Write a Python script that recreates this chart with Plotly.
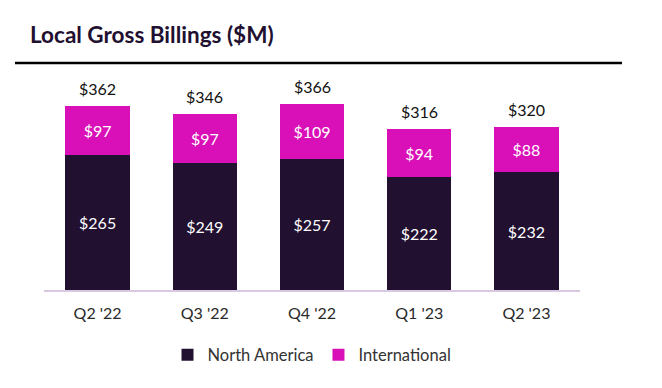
import plotly.graph_objects as go

quarters = ["Q2 '22", "Q3 '22", "Q4 '22", "Q1 '23", "Q2 '23"]
north_america = [265, 249, 257, 222, 232]
international = [97, 97, 109, 94, 88]
totals = [362, 346, 366, 316, 320]

DARK = "#221030"
MAGENTA = "#d910b8"
FONT = "Lato"

fig = go.Figure()
fig.add_trace(go.Bar(
    x=quarters, y=north_america, name="North America",
    marker=dict(color=DARK, line=dict(width=0)),
    text=[f"${v}" for v in north_america], textposition="inside",
    insidetextanchor="middle",
    textfont=dict(color="white", size=16, family=FONT),
))
fig.add_trace(go.Bar(
    x=quarters, y=international, name="International",
    marker=dict(color=MAGENTA, line=dict(width=0)),
    text=[f"${v}" for v in international], textposition="inside",
    insidetextanchor="middle",
    textfont=dict(color="white", size=16, family=FONT),
))

annotations = [
    dict(x=q, y=t, xref="x", yref="y", text=f"${t}", showarrow=False,
         yanchor="bottom", yshift=6,
         font=dict(color="#111111", size=16, family=FONT))
    for q, t in zip(quarters, totals)
]

fig.update_layout(
    barmode="stack",
    bargap=0.4,
    width=662, height=388,
    margin=dict(l=36, r=90, t=72, b=106),
    paper_bgcolor="white", plot_bgcolor="white",
    font=dict(family=FONT, color="#333333", size=15),
    title=dict(text="<b>Local Gross Billings ($M)</b>", x=0, xref="paper",
               xanchor="left", y=1, yref="container", yanchor="top",
               pad=dict(t=19, l=-14),
               font=dict(size=22.5, color="#221030", family=FONT)),
    showlegend=True,
    legend=dict(orientation="h", x=0.5, xanchor="center", y=-0.31, yanchor="middle",
                font=dict(size=16.5, color="#333333", family=FONT),
                itemsizing="constant", itemwidth=30, traceorder="normal"),
    hovermode=False,
    annotations=annotations,
    xaxis=dict(showgrid=False, showline=True, linecolor="#d8c8e2", linewidth=1.5,
               ticks="", ticklabelstandoff=8,
               tickfont=dict(size=16, color="#2a2a2a")),
    yaxis=dict(visible=False, range=[0, 413]),
    shapes=[dict(type="line", xref="paper", yref="paper",
                 x0=-29/536, x1=(622-44)/536, y0=(290-63)/210, y1=(290-63)/210,
                 line=dict(color="black", width=2.5))],
)

fig.write_html("out.html")
